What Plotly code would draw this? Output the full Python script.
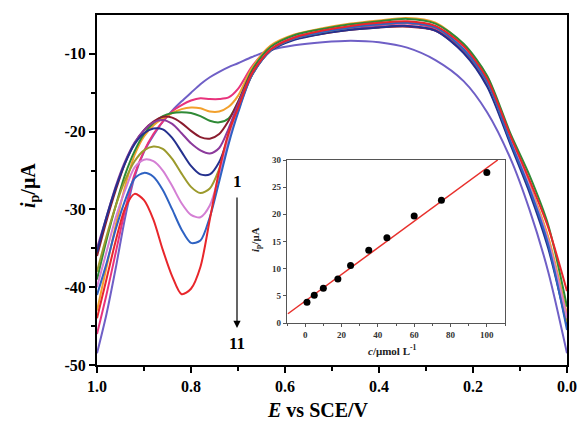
import plotly.graph_objects as go

# ---------------- data ----------------
E_grid = [1.00, 0.98, 0.96, 0.94, 0.92, 0.90, 0.88, 0.86, 0.84, 0.82, 0.80, 0.78, 0.76, 0.74, 0.72,
          0.70, 0.67, 0.63, 0.58, 0.52, 0.46, 0.40, 0.34, 0.28, 0.22, 0.17, 0.12, 0.08, 0.04, 0.00]

i_blank = [-48.5, -43.5, -37.5, -31.0, -25.8, -22.6, -20.5, -18.7, -17.3, -16.1, -15.0, -13.9, -13.0, -12.3, -11.7,
           -11.2, -10.4, -9.5, -8.9, -8.5, -8.3, -8.5, -9.2, -10.8, -13.5, -17.5, -23.5, -30.0, -38.0, -48.5]
i_pink = [-46.0, -41.0, -35.5, -30.0, -25.5, -22.5, -20.3, -18.7, -17.4, -16.6, -16.0, -15.7, -15.8, -15.8, -15.6,
          -14.5, -11.6, -9.0, -7.8, -7.1, -6.6, -6.3, -6.1, -6.8, -9.8, -13.8, -20.8, -26.8, -33.8, -44.5]
i_orange = [-43.0, -37.5, -32.0, -27.0, -23.0, -20.6, -19.2, -18.3, -17.6, -17.1, -16.9, -17.0, -17.4, -17.4, -16.8,
            -15.4, -11.8, -8.9, -7.5, -6.7, -6.1, -5.7, -5.4, -6.0, -8.9, -12.9, -21.0, -26.8, -33.5, -43.5]
i_green = [-39.0, -34.0, -29.5, -25.5, -22.5, -20.3, -18.9, -18.0, -17.6, -17.5, -17.6, -18.0, -18.6, -18.8, -18.3,
           -16.2, -12.1, -9.1, -7.6, -6.8, -6.2, -5.8, -5.5, -6.1, -8.7, -12.8, -20.3, -25.6, -32.0, -42.5]
i_maroon = [-36.0, -31.5, -27.5, -24.0, -21.5, -19.8, -18.7, -18.1, -18.2, -18.9, -19.9, -20.7, -20.9, -20.3, -18.6,
            -16.2, -12.4, -9.5, -8.1, -7.4, -6.9, -6.6, -6.5, -7.0, -9.7, -13.9, -21.4, -27.3, -34.3, -44.5]
i_purple = [-35.0, -31.0, -27.0, -23.8, -21.4, -19.8, -18.8, -18.5, -19.0, -20.2, -21.5, -22.4, -22.8, -22.1, -19.6,
            -16.5, -12.5, -9.5, -8.1, -7.3, -6.8, -6.5, -6.4, -7.0, -9.8, -14.0, -21.5, -27.5, -34.5, -45.0]
i_navy = [-35.5, -31.0, -27.2, -24.0, -21.6, -20.2, -19.6, -19.7, -20.8, -22.6, -24.4, -25.5, -25.5, -23.9, -20.6,
          -17.0, -12.7, -9.6, -8.2, -7.4, -6.9, -6.6, -6.4, -7.0, -9.9, -14.2, -21.7, -27.8, -35.0, -45.0]
i_olive = [-38.0, -33.5, -29.5, -26.2, -23.8, -22.4, -21.9, -22.2, -23.5, -25.4, -27.1, -27.9, -27.3, -24.8, -20.9,
           -17.2, -12.7, -9.5, -8.0, -7.2, -6.6, -6.2, -6.0, -6.6, -9.4, -13.6, -21.2, -27.2, -34.2, -44.5]
i_lilac = [-40.0, -35.5, -31.0, -27.5, -24.6, -23.6, -23.8, -25.0, -27.0, -29.2, -30.7, -31.0, -29.5, -25.6, -21.1,
           -17.4, -12.6, -9.4, -7.9, -7.1, -6.5, -6.1, -5.9, -6.5, -9.3, -13.5, -21.0, -27.0, -34.0, -44.0]
i_blue = [-41.0, -37.0, -32.5, -28.8, -26.0, -25.3, -25.8, -27.5, -30.0, -32.6, -34.3, -34.0, -31.0, -26.4, -21.6,
          -17.6, -12.7, -9.5, -8.0, -7.2, -6.6, -6.2, -6.0, -6.6, -9.4, -13.6, -21.3, -27.3, -34.5, -45.5]
i_red = [-44.0, -39.0, -34.0, -29.8, -28.0, -28.8, -31.3, -35.2, -38.6, -40.9, -40.2, -37.4, -31.3, -25.0, -20.1,
         -17.0, -12.5, -9.4, -7.9, -7.0, -6.4, -6.0, -5.8, -6.4, -9.0, -13.2, -20.6, -26.2, -32.3, -40.5]

# inset calibration data
conc = [1, 5, 10, 18, 25, 35, 45, 60, 75, 100]
ip = [3.8, 5.1, 6.4, 8.1, 10.6, 13.4, 15.7, 19.7, 22.6, 27.7]
fit_x = [-9.5, 106]
fit_y = [1.7, 30.0]

main_yticks = [-50, -40, -30, -20, -10]
main_yticklabels = ["-50", "-40", "-30", "-20", "-10"]
main_xticks = [1.0, 0.8, 0.6, 0.4, 0.2, 0.0]
main_xticklabels = ["1.0", "0.8", "0.6", "0.4", "0.2", "0.0"]
inset_xticks = [0, 20, 40, 60, 80, 100]
inset_yticks = [0, 5, 10, 15, 20, 25, 30]

# ---------------- style ----------------
curves = [
    (i_blank, "#6f5fc6"),
    (i_pink, "#e8337c"),
    (i_orange, "#f2a02c"),
    (i_green, "#2f8a36"),
    (i_maroon, "#8a1c2e"),
    (i_purple, "#8c3a9c"),
    (i_navy, "#24308e"),
    (i_olive, "#9c9a2c"),
    (i_lilac, "#d47fd4"),
    (i_blue, "#2e62c2"),
    (i_red, "#e8262b"),
]

SERIF = "Liberation Serif, Times New Roman, serif"

fig = go.Figure()
for vals, col in curves:
    fig.add_trace(go.Scatter(x=E_grid, y=vals, mode="lines",
                             line=dict(color=col, width=2, shape="spline", smoothing=0.8),
                             showlegend=False, hoverinfo="skip", xaxis="x", yaxis="y"))

fig.add_trace(go.Scatter(x=fit_x, y=fit_y, mode="lines", line=dict(color="#e8302c", width=1.5),
                         showlegend=False, xaxis="x2", yaxis="y2"))
fig.add_trace(go.Scatter(x=conc, y=ip, mode="markers", marker=dict(color="black", size=7),
                         showlegend=False, xaxis="x2", yaxis="y2"))

L, R, T, B = 97, 14, 15, 70
W, H = 581, 435
pw, ph = W - L - R, H - T - B

def px2paper(px, py):
    return (px - L) / pw, (H - B - py) / ph

tickfont = dict(family=SERIF, size=16, color="black", weight="bold")
inset_font = dict(family=SERIF, size=9, color="#333", weight="bold")

fig.update_layout(
    template="none",
    width=W, height=H,
    margin=dict(l=L, r=R, t=T, b=B, autoexpand=False),
    paper_bgcolor="white", plot_bgcolor="white",
    xaxis=dict(range=[1.0, 0.0], tickvals=main_xticks, ticktext=main_xticklabels, automargin=False,
               showline=True, linewidth=2, linecolor="black", mirror=True,
               ticks="outside", ticklen=6, tickwidth=2, tickcolor="black",
               minor=dict(dtick=0.1, ticks="outside", ticklen=4, tickwidth=2, tickcolor="black"),
               showgrid=False, zeroline=False, tickfont=tickfont),
    yaxis=dict(range=[-50, -5], tickvals=main_yticks, ticktext=main_yticklabels, automargin=False,
               showline=True, linewidth=2, linecolor="black", mirror=True,
               ticks="outside", ticklen=6, tickwidth=2, tickcolor="black",
               minor=dict(tickvals=[-45, -35, -25, -15], ticks="outside", ticklen=4, tickwidth=2, tickcolor="black"),
               showgrid=False, zeroline=False, tickfont=tickfont),
    xaxis2=dict(domain=[(287 - L) / pw, (505 - L) / pw], anchor="y2", range=[-10, 110],
                tickvals=inset_xticks, automargin=False,
                showline=True, linewidth=1.2, linecolor="#555", mirror=True,
                ticks="outside", ticklen=3, tickwidth=1, tickcolor="#555",
                minor=dict(dtick=10, tick0=0, ticks="outside", ticklen=2, tickwidth=1, tickcolor="#555"),
                showgrid=False, zeroline=False, tickfont=inset_font),
    yaxis2=dict(domain=[(H - B - 323) / ph, (H - B - 160) / ph], anchor="x2", range=[0, 30],
                tickvals=inset_yticks, automargin=False,
                showline=True, linewidth=1.2, linecolor="#555", mirror=True,
                ticks="outside", ticklen=3, tickwidth=1, tickcolor="#555",
                showgrid=False, zeroline=False, tickfont=inset_font),
)

def ann(px, py, text, size, angle=0, color="black"):
    x, y = px2paper(px, py)
    fig.add_annotation(x=x, y=y, xref="paper", yref="paper", text=text, showarrow=False,
                       textangle=angle, xanchor="center", yanchor="middle",
                       font=dict(family=SERIF, size=size, color=color))

ann(318, 410, "<b><i>E</i> vs SCE/V</b>", 20)
ann(29, 186, "<b><i>i</i><sub>p</sub>/μA</b>", 20, angle=-90)
ann(392, 350, "<b><i>c</i>/μmol L<sup>-1</sup></b>", 11, color="#222")
ann(256, 240, "<b><i>i</i><sub>p</sub>/μA</b>", 11, angle=-90, color="#222")
ann(237, 181, "<b>1</b>", 17)
ann(237, 343, "<b>11</b>", 17)

hx, hy = px2paper(237, 328)
fig.add_annotation(x=hx, y=hy, xref="paper", yref="paper", ax=0, ay=-132, text="",
                   showarrow=True, arrowhead=2, arrowsize=1.2, arrowwidth=1.2, arrowcolor="black")

fig.write_html("out.html", config={"displayModeBar": False, "staticPlot": True},
               post_script="document.body.style.margin='0';document.body.style.overflow='hidden';")
